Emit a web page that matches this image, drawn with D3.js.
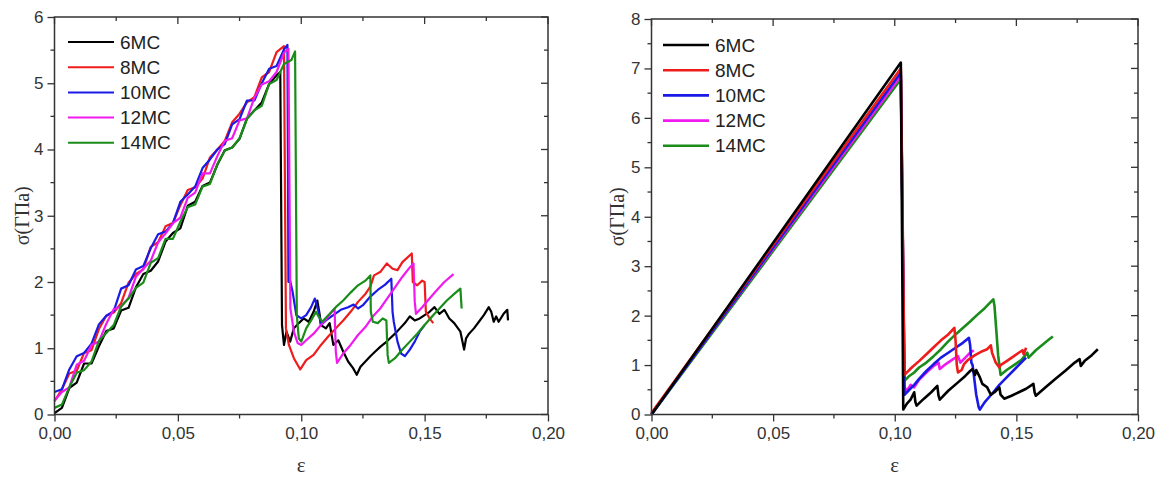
<!DOCTYPE html>
<html><head><meta charset="utf-8">
<script src="https://cdn.jsdelivr.net/npm/d3@7"></script>
<style>
html,body{margin:0;padding:0;background:#fff;}
svg{display:block;}
</style></head>
<body>
<svg id="c" width="1166" height="478"></svg>
<script>
// ---- Data ----
const seriesNames = ["6MC", "8MC", "10MC", "12MC", "14MC"];
const seriesColors = ["#000000", "#ee1c1c", "#1a1ae6", "#f01af0", "#1a8c1a"];
const xTicks = [0, 0.05, 0.10, 0.15, 0.20];
const xTickLabels = ["0,00", "0,05", "0,10", "0,15", "0,20"];
const yTicksLeft = [0, 1, 2, 3, 4, 5, 6];
const yTicksRight = [0, 1, 2, 3, 4, 5, 6, 7, 8];

// Left panel: [strain, stress GPa]
const left6MC = [[0,0.02],[0.003,0.10],[0.006,0.40],[0.009,0.48],[0.012,0.77],[0.015,0.77],[0.018,1.03],[0.021,1.26],[0.024,1.30],[0.027,1.57],[0.030,1.61],[0.033,1.92],[0.036,2.12],[0.039,2.17],[0.042,2.31],[0.045,2.61],[0.048,2.74],[0.051,2.81],[0.054,3.15],[0.057,3.21],[0.060,3.45],[0.063,3.50],[0.066,3.77],[0.069,3.99],[0.072,4.03],[0.075,4.16],[0.078,4.47],[0.081,4.59],[0.084,4.71],[0.087,4.99],[0.090,5.12],[0.0915,5.17],
  [0.0922,1.35],[0.093,1.05],[0.094,1.25],[0.0955,1.10],[0.097,1.30],[0.099,1.38],[0.101,1.45],[0.103,1.40],[0.105,1.55],[0.1065,1.72],[0.1075,1.50],[0.108,1.35],[0.110,1.30],[0.1115,1.38],[0.113,1.05],[0.115,1.12],[0.117,0.95],[0.119,0.80],[0.121,0.70],[0.1225,0.60],[0.124,0.72],[0.126,0.80],[0.128,0.88],[0.130,0.95],[0.132,1.02],[0.134,1.08],[0.136,1.15],[0.138,1.22],[0.140,1.30],[0.142,1.38],[0.144,1.48],[0.146,1.42],[0.148,1.45],[0.150,1.50],[0.152,1.55],[0.154,1.62],[0.156,1.52],[0.158,1.58],[0.160,1.45],[0.162,1.38],[0.1645,1.25],[0.166,0.98],[0.1668,1.15],[0.168,1.22],[0.170,1.30],[0.172,1.40],[0.174,1.50],[0.176,1.62],[0.177,1.55],[0.178,1.40],[0.179,1.48],[0.180,1.40],[0.182,1.52],[0.1835,1.58],[0.1838,1.42]];
const left8MC = [[0,0.20],[0.003,0.38],[0.006,0.62],[0.009,0.66],[0.012,0.93],[0.015,0.97],[0.018,1.29],[0.021,1.49],[0.024,1.54],[0.027,1.68],[0.030,1.99],[0.033,2.12],[0.036,2.19],[0.039,2.53],[0.042,2.60],[0.045,2.84],[0.048,2.89],[0.051,3.16],[0.054,3.39],[0.057,3.43],[0.060,3.56],[0.063,3.88],[0.066,4.00],[0.069,4.13],[0.072,4.41],[0.075,4.54],[0.078,4.71],[0.081,4.79],[0.084,5.09],[0.087,5.17],[0.090,5.47],[0.093,5.56],
  [0.0938,1.30],[0.095,1.05],[0.097,0.85],[0.0985,0.75],[0.0996,0.68],[0.102,0.82],[0.105,0.90],[0.108,1.05],[0.111,1.18],[0.114,1.30],[0.117,1.42],[0.120,1.55],[0.123,1.70],[0.126,1.82],[0.128,1.93],[0.1295,2.10],[0.132,2.15],[0.1347,2.28],[0.137,2.20],[0.139,2.18],[0.141,2.30],[0.1448,2.43],[0.1452,2.00],[0.147,1.95],[0.149,2.02],[0.150,2.00],[0.1505,1.55],[0.152,1.45],[0.1535,1.38]];
const left10MC = [[0,0.34],[0.003,0.38],[0.006,0.68],[0.009,0.88],[0.012,0.93],[0.015,1.07],[0.018,1.36],[0.021,1.49],[0.024,1.56],[0.027,1.90],[0.030,1.95],[0.033,2.19],[0.036,2.24],[0.039,2.51],[0.042,2.72],[0.045,2.76],[0.048,2.89],[0.051,3.21],[0.054,3.32],[0.057,3.44],[0.060,3.72],[0.063,3.85],[0.066,4.00],[0.069,4.08],[0.072,4.38],[0.075,4.46],[0.078,4.74],[0.081,4.74],[0.084,5.00],[0.087,5.22],[0.090,5.26],[0.093,5.51],[0.0944,5.58],
  [0.0948,2.00],[0.0955,2.02],[0.0965,1.85],[0.098,1.50],[0.100,1.45],[0.102,1.50],[0.104,1.62],[0.1055,1.75],[0.107,1.55],[0.108,1.35],[0.110,1.42],[0.113,1.50],[0.116,1.58],[0.119,1.62],[0.1212,1.66],[0.123,1.60],[0.125,1.65],[0.128,1.78],[0.131,1.88],[0.134,1.96],[0.1365,2.05],[0.137,1.55],[0.1375,1.40],[0.139,1.10],[0.1405,0.92],[0.142,0.88],[0.144,0.98],[0.146,1.10],[0.148,1.25],[0.150,1.35]];
const left12MC = [[0,0.21],[0.003,0.34],[0.006,0.41],[0.009,0.75],[0.012,0.81],[0.015,1.05],[0.018,1.10],[0.021,1.37],[0.024,1.59],[0.027,1.63],[0.030,1.76],[0.033,2.08],[0.036,2.20],[0.039,2.32],[0.042,2.60],[0.045,2.73],[0.048,2.89],[0.051,2.97],[0.054,3.27],[0.057,3.35],[0.060,3.64],[0.063,3.64],[0.066,3.90],[0.069,4.13],[0.072,4.17],[0.075,4.44],[0.078,4.47],[0.081,4.78],[0.084,4.98],[0.087,5.03],[0.090,5.17],[0.093,5.46],[0.0948,5.52],
  [0.0956,1.60],[0.097,1.25],[0.0985,1.08],[0.100,1.05],[0.102,1.12],[0.105,1.22],[0.108,1.35],[0.111,1.48],[0.1135,1.60],[0.114,0.95],[0.1145,0.78],[0.117,0.92],[0.120,1.05],[0.123,1.20],[0.126,1.32],[0.129,1.48],[0.132,1.60],[0.135,1.76],[0.138,1.92],[0.141,2.08],[0.144,2.22],[0.1455,2.28],[0.146,1.70],[0.1465,1.52],[0.149,1.62],[0.152,1.75],[0.155,1.88],[0.158,2.00],[0.1617,2.12]];
const left14MC = [[0,0.10],[0.003,0.15],[0.006,0.41],[0.009,0.63],[0.012,0.67],[0.015,0.80],[0.018,1.11],[0.021,1.23],[0.024,1.35],[0.027,1.63],[0.030,1.75],[0.033,1.91],[0.036,1.99],[0.039,2.29],[0.042,2.36],[0.045,2.65],[0.048,2.65],[0.051,2.91],[0.054,3.13],[0.057,3.17],[0.060,3.44],[0.063,3.48],[0.066,3.78],[0.069,3.98],[0.072,4.03],[0.075,4.17],[0.078,4.46],[0.081,4.59],[0.084,4.66],[0.087,4.99],[0.090,5.05],[0.093,5.29],[0.096,5.35],[0.0975,5.48],
  [0.0982,1.50],[0.099,1.15],[0.100,1.10],[0.102,1.30],[0.104,1.42],[0.106,1.55],[0.107,1.48],[0.1085,1.40],[0.111,1.50],[0.114,1.62],[0.117,1.72],[0.120,1.84],[0.123,1.95],[0.126,2.02],[0.128,2.10],[0.1282,1.55],[0.129,1.40],[0.131,1.38],[0.133,1.45],[0.1345,1.42],[0.135,0.90],[0.1355,0.78],[0.138,0.85],[0.141,0.98],[0.144,1.10],[0.147,1.22],[0.150,1.35],[0.153,1.48],[0.156,1.60],[0.159,1.72],[0.162,1.82],[0.1645,1.90],[0.165,1.60]];

// Right panel
const right6MC = [[0,0],[0.1025,7.12],[0.1035,0.10],[0.105,0.22],[0.1065,0.30],[0.108,0.45],[0.1085,0.25],[0.109,0.18],[0.112,0.32],[0.115,0.45],[0.1175,0.58],[0.118,0.38],[0.1185,0.30],[0.122,0.48],[0.126,0.65],[0.129,0.78],[0.131,0.88],[0.132,0.92],[0.133,0.80],[0.1335,0.90],[0.135,0.75],[0.136,0.62],[0.138,0.55],[0.1395,0.40],[0.141,0.45],[0.143,0.55],[0.1435,0.40],[0.145,0.32],[0.148,0.38],[0.151,0.45],[0.154,0.52],[0.157,0.62],[0.1575,0.45],[0.158,0.38],[0.162,0.55],[0.166,0.72],[0.170,0.88],[0.174,1.05],[0.176,1.12],[0.1765,0.98],[0.178,1.08],[0.181,1.20],[0.1835,1.32]];
const right8MC = [[0,0.03],[0.1025,7.00],[0.104,0.80],[0.107,0.95],[0.110,1.08],[0.113,1.22],[0.116,1.36],[0.119,1.50],[0.122,1.62],[0.1245,1.75],[0.125,1.50],[0.1255,1.00],[0.126,0.85],[0.1275,0.90],[0.1285,1.02],[0.130,1.10],[0.133,1.20],[0.136,1.28],[0.138,1.32],[0.1395,1.40],[0.140,1.25],[0.1415,1.05],[0.143,0.95],[0.1435,1.00],[0.146,1.08],[0.149,1.18],[0.151,1.25],[0.1525,1.30],[0.153,1.22],[0.154,1.35]];
const right10MC = [[0,0],[0.1025,6.92],[0.104,0.40],[0.106,0.50],[0.108,0.60],[0.110,0.72],[0.113,0.88],[0.116,1.02],[0.119,1.15],[0.122,1.25],[0.125,1.35],[0.128,1.45],[0.1305,1.55],[0.131,1.40],[0.1315,1.05],[0.132,1.00],[0.1325,0.80],[0.1335,0.40],[0.1345,0.15],[0.135,0.10],[0.137,0.25],[0.140,0.42],[0.143,0.60],[0.146,0.75],[0.149,0.90],[0.152,1.05],[0.154,1.15]];
const right12MC = [[0,0.02],[0.1025,6.85],[0.104,0.55],[0.105,0.48],[0.1065,0.60],[0.108,0.55],[0.110,0.70],[0.113,0.85],[0.116,0.98],[0.118,1.05],[0.1185,0.92],[0.121,1.02],[0.124,1.12],[0.126,1.18],[0.127,1.05],[0.129,1.15],[0.131,1.25],[0.1325,1.30]];
const right14MC = [[0,0],[0.1025,6.78],[0.104,0.68],[0.106,0.78],[0.108,0.85],[0.110,0.95],[0.113,1.05],[0.116,1.18],[0.119,1.32],[0.122,1.48],[0.125,1.62],[0.128,1.75],[0.131,1.88],[0.134,2.02],[0.137,2.15],[0.1405,2.33],[0.141,2.20],[0.1425,1.20],[0.1435,0.80],[0.146,0.90],[0.149,1.00],[0.152,1.10],[0.1545,1.25],[0.155,1.15],[0.158,1.30],[0.161,1.42],[0.1635,1.52],[0.165,1.58]];

const leftSeries = [left6MC, left8MC, left10MC, left12MC, left14MC];
const rightSeries = [right6MC, right8MC, right10MC, right12MC, right14MC];

// ---- Drawing ----
const svg = d3.select("#c");
const axisColor = "#333";
const tickFont = "Liberation Sans, Arial, sans-serif";
const serif = "Liberation Serif, Times New Roman, serif";

function panel(opt) {
  const x = d3.scaleLinear().domain([0, 0.2]).range([opt.x0, opt.x1]);
  const y = d3.scaleLinear().domain([0, opt.ymax]).range([opt.y0, opt.y1]);
  const g = svg.append("g");

  // series
  const line = d3.line().x(d => x(d[0])).y(d => y(d[1]));
  opt.order.forEach(i => {
    g.append("path").datum(opt.series[i])
      .attr("d", line).attr("fill", "none")
      .attr("stroke", seriesColors[i]).attr("stroke-width", opt.sw)
      .attr("stroke-linejoin", "round");
  });

  const minorX = d3.range(0, 0.2001, 0.025);
  const minorY = d3.range(0, opt.ymax + 0.001, 0.5);

  // bottom axis
  const bottom = d3.axisBottom(x).tickValues(xTicks).tickFormat((d, i) => xTickLabels[i]).tickSize(7).tickPadding(5);
  const gb = g.append("g").attr("transform", `translate(0,${opt.y0})`).call(bottom);
  const left = d3.axisLeft(y).tickValues(opt.yTicks).tickFormat(d3.format("d")).tickSize(7).tickPadding(4);
  const gl = g.append("g").attr("transform", `translate(${opt.x0},0)`).call(left);
  [gb, gl].forEach(a => {
    a.selectAll(".domain").remove();
    a.selectAll("line").attr("stroke", axisColor).attr("stroke-width", 1.3);
    a.selectAll("text").attr("fill", axisColor).style("font-family", tickFont).style("font-size", "17px");
  });
  // minor ticks bottom/left (outward)
  minorX.filter(v => Math.abs((v * 20) - Math.round(v * 20)) > 1e-6).forEach(v => {
    g.append("line").attr("x1", x(v)).attr("x2", x(v)).attr("y1", opt.y0).attr("y2", opt.y0 + 4)
      .attr("stroke", axisColor).attr("stroke-width", 1.3);
  });
  minorY.filter(v => Math.abs(v - Math.round(v)) > 1e-6).forEach(v => {
    g.append("line").attr("x1", opt.x0 - 4).attr("x2", opt.x0).attr("y1", y(v)).attr("y2", y(v))
      .attr("stroke", axisColor).attr("stroke-width", 1.3);
  });
  // mirrored ticks top/right (inward)
  minorX.forEach(v => {
    const major = Math.abs((v * 20) - Math.round(v * 20)) < 1e-6;
    g.append("line").attr("x1", x(v)).attr("x2", x(v)).attr("y1", opt.y1).attr("y2", opt.y1 + (major ? 7 : 4))
      .attr("stroke", axisColor).attr("stroke-width", 1.3);
  });
  minorY.forEach(v => {
    const major = Math.abs(v - Math.round(v)) < 1e-6;
    g.append("line").attr("x1", opt.x1 - (major ? 7 : 4)).attr("x2", opt.x1).attr("y1", y(v)).attr("y2", y(v))
      .attr("stroke", axisColor).attr("stroke-width", 1.3);
  });
  // frame
  g.append("rect").attr("x", opt.x0).attr("y", opt.y1).attr("width", opt.x1 - opt.x0).attr("height", opt.y0 - opt.y1)
    .attr("fill", "none").attr("stroke", axisColor).attr("stroke-width", 1.5);

  // axis titles
  g.append("text").attr("x", (opt.x0 + opt.x1) / 2).attr("y", opt.y0 + 57)
    .attr("text-anchor", "middle").attr("fill", axisColor)
    .style("font-family", serif).style("font-size", "21px").text("ε");
  g.append("text").attr("transform", `translate(${opt.ylabX},${(opt.y0 + opt.y1) / 2}) rotate(-90)`)
    .attr("text-anchor", "middle").attr("dominant-baseline", "central").attr("fill", axisColor)
    .style("font-family", serif).style("font-size", "20px").text("σ(ГПа)");

  // legend
  seriesNames.forEach((n, i) => {
    const yy = opt.legY + i * 25.2;
    g.append("line").attr("x1", opt.legX).attr("x2", opt.legX + 46).attr("y1", yy).attr("y2", yy)
      .attr("stroke", seriesColors[i]).attr("stroke-width", opt.legSw);
    g.append("text").attr("x", opt.legX + 52).attr("y", yy).attr("dominant-baseline", "central")
      .attr("fill", "#222").style("font-family", tickFont).style("font-size", "19px").text(n);
  });
}

panel({x0: 54.5, x1: 548, y0: 414.5, y1: 17, ymax: 6, yTicks: yTicksLeft, series: leftSeries,
  order: [0, 1, 2, 3, 4], sw: 2.2, ylabX: 22, legX: 68, legY: 42, legSw: 2});
panel({x0: 651.5, x1: 1138, y0: 414.5, y1: 19, ymax: 8, yTicks: yTicksRight, series: rightSeries,
  order: [4, 3, 2, 1, 0], sw: 2.6, ylabX: 617, legX: 663, legY: 45, legSw: 2.6});
</script>
</body></html>
